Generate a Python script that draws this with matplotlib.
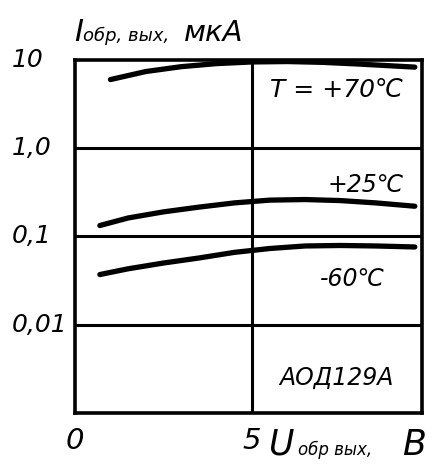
import matplotlib.pyplot as plt

# reverse output current of the optocoupler vs reverse voltage, three temperatures
u_70 = [1.0, 2.0, 3.0, 4.0, 5.0, 6.0, 7.0, 8.0, 9.6]
i_70 = [6.0, 7.4, 8.4, 9.1, 9.5, 9.6, 9.4, 9.0, 8.3]

u_25 = [0.7, 1.5, 2.5, 3.5, 4.5, 5.5, 6.5, 7.5, 8.5, 9.6]
i_25 = [0.133, 0.162, 0.19, 0.215, 0.24, 0.258, 0.262, 0.255, 0.24, 0.22]

u_60 = [0.7, 1.5, 2.5, 3.5, 4.5, 5.5, 6.5, 7.5, 8.5, 9.6]
i_60 = [0.037, 0.043, 0.05, 0.057, 0.066, 0.073, 0.078, 0.079, 0.078, 0.076]

curve_labels = ["T = +70℃", "+25℃", "-60℃"]
y_ticks = [0.01, 0.1, 1.0, 10]
y_tick_labels = ["0,01", "0,1", "1,0", "10"]
x_ticks = [0, 5]

plt.rcParams['font.family'] = ['DejaVu Sans Condensed', 'Liberation Sans Narrow', 'DejaVu Sans']
plt.rcParams['font.style'] = 'italic'

fig = plt.figure(figsize=(4.39, 4.65), dpi=100)
ax = fig.add_axes([0.171, 0.112, 0.790, 0.759])
ax.set_yscale('log')
ax.set_xlim(0, 9.8)
ax.set_ylim(0.001, 10)

for u, i in [(u_70, i_70), (u_25, i_25), (u_60, i_60)]:
    ax.plot(u, i, color='black', lw=3.8, solid_capstyle='round', solid_joinstyle='round')

for y in y_ticks[:-1]:
    ax.axhline(y, color='black', lw=2.2)
ax.axvline(5, color='black', lw=2.2)

for s in ax.spines.values():
    s.set_linewidth(2.6)

ax.set_xticks([])
ax.set_yticks([])
ax.minorticks_off()

# tick labels drawn as plain text beside the frame
for y, lab in zip(y_ticks, y_tick_labels):
    fig.text(0.027, ax.transData.transform((0, y))[1] / fig.bbox.height, lab,
             ha='left', va='center', fontsize=18)
for x in x_ticks:
    ax.text(x, -0.04, str(x), transform=ax.get_xaxis_transform(), ha='center', va='top',
            fontsize=21)

ax.text(5.5, 4.6, curve_labels[0], fontsize=18, ha='left', va='center')
ax.text(9.3, 0.38, curve_labels[1], fontsize=17, ha='right', va='center')
ax.text(8.75, 0.033, curve_labels[2], fontsize=17, ha='right', va='center')
ax.text(9.0, 0.0025, "АОД129А", fontsize=17, ha='right', va='center')

# axis titles
fig.text(0.168, 0.912, "I", fontsize=22, ha='left', va='baseline')
fig.text(0.190, 0.912, "обр, вых,", fontsize=13, ha='left', va='baseline')
fig.text(0.418, 0.912, "мкА", fontsize=21, ha='left', va='baseline')
fig.text(0.612, 0.022, "U", fontsize=25, ha='left', va='baseline')
fig.text(0.678, 0.022, "обр вых,", fontsize=12, ha='left', va='baseline')
fig.text(0.915, 0.022, "В", fontsize=25, ha='left', va='baseline')

fig.savefig("out.png", dpi=100, facecolor='white')
